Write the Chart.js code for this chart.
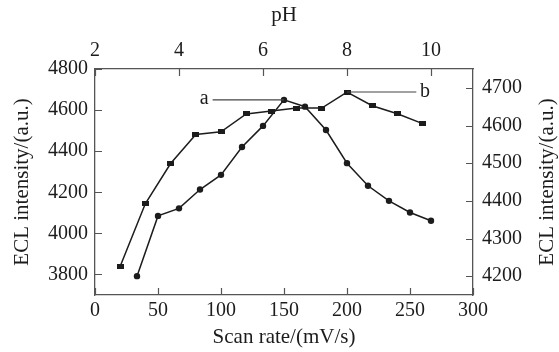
<!DOCTYPE html>
<html>
<head>
<meta charset="utf-8">
<script src="https://cdn.jsdelivr.net/npm/chart.js@4.4.1/dist/chart.umd.min.js"></script>
<style>
  html, body { margin: 0; padding: 0; background: #fff; }
</style>
</head>
<body>
<canvas id="myChart" width="559" height="352"></canvas>
<script>
// 曲線b: 走査速度 (下軸 / 左軸)
const scanRate = [20, 40, 60, 80, 100, 120, 140, 160, 180, 200, 220, 240, 260];
const scanEcl = [3840, 4145, 4340, 4481, 4494, 4581, 4595, 4610, 4610, 4688, 4621, 4582, 4534];

// 曲線a: pH (上軸 / 右軸)
const phValues = [3, 3.5, 4, 4.5, 5, 5.5, 6, 6.5, 7, 7.5, 8, 8.5, 9, 9.5, 10];
const phEcl = [4200, 4360, 4380, 4430, 4469, 4543, 4599, 4668, 4650, 4588, 4500, 4440, 4400, 4369, 4347];

// 目盛り
const scanTicks = [0, 50, 100, 150, 200, 250, 300];
const phTicks = [2, 4, 6, 8, 10];
const leftTicks = [3800, 4000, 4200, 4400, 4600, 4800];
const rightTicks = [4200, 4300, 4400, 4500, 4600, 4700];

const fontFamily = "'Liberation Serif', 'Times New Roman', serif";
const inkColor = '#1c1c1c';
const frameColor = '#555';

// 四角マーカー (横長)
const squareMarker = document.createElement('canvas');
squareMarker.width = 7;
squareMarker.height = 5;
const sctx = squareMarker.getContext('2d');
sctx.fillStyle = inkColor;
sctx.fillRect(0, 0, 7, 5);

const argmax = arr => arr.indexOf(Math.max(...arr));

const setTicks = list => scale => { scale.ticks = list.map(v => ({ value: v })); };
const plain = v => String(v);

// 軸の内側に目盛り線を引く
const innerTicks = {
  id: 'innerTicks',
  afterDatasetsDraw(chart) {
    const { ctx, chartArea: a, scales } = chart;
    const len = 7;
    ctx.save();
    ctx.strokeStyle = frameColor;
    ctx.lineWidth = 1.2;
    ctx.beginPath();
    scales.x.ticks.forEach(t => {
      const p = Math.round(scales.x.getPixelForValue(t.value)) + 0.5;
      ctx.moveTo(p, a.bottom); ctx.lineTo(p, a.bottom - len);
    });
    scales.xTop.ticks.forEach(t => {
      const p = Math.round(scales.xTop.getPixelForValue(t.value)) + 0.5;
      ctx.moveTo(p, a.top); ctx.lineTo(p, a.top + len);
    });
    scales.y.ticks.forEach(t => {
      const p = Math.round(scales.y.getPixelForValue(t.value)) + 0.5;
      ctx.moveTo(a.left, p); ctx.lineTo(a.left + len, p);
    });
    scales.y2.ticks.forEach(t => {
      const p = Math.round(scales.y2.getPixelForValue(t.value)) + 0.5;
      ctx.moveTo(a.right, p); ctx.lineTo(a.right - len, p);
    });
    ctx.stroke();
    ctx.restore();
  }
};

// ラベル a, b と右軸タイトル
const labelA = { text: 'a', at: 4.6, lineFrom: 4.8 };
const labelB = { text: 'b', at: 262, lineTo: 255 };

const annotations = {
  id: 'annotations',
  afterDatasetsDraw(chart) {
    const { ctx, chartArea: a, scales } = chart;
    ctx.save();
    ctx.strokeStyle = '#444';
    ctx.lineWidth = 1.2;
    ctx.fillStyle = inkColor;
    ctx.font = '20px ' + fontFamily;
    ctx.textAlign = 'center';
    ctx.textBaseline = 'middle';

    const pa = chart.getDatasetMeta(1).data[argmax(phEcl)];
    const xa0 = scales.xTop.getPixelForValue(labelA.lineFrom);
    ctx.beginPath();
    ctx.moveTo(xa0, pa.y); ctx.lineTo(pa.x, pa.y);
    ctx.stroke();
    ctx.fillText(labelA.text, scales.xTop.getPixelForValue(labelA.at), pa.y - 1);

    const pb = chart.getDatasetMeta(0).data[argmax(scanEcl)];
    const xb1 = scales.x.getPixelForValue(labelB.lineTo);
    ctx.beginPath();
    ctx.moveTo(pb.x, pb.y); ctx.lineTo(xb1, pb.y);
    ctx.stroke();
    ctx.fillText(labelB.text, scales.x.getPixelForValue(labelB.at), pb.y);

    // 右軸タイトル (下から上へ読む)
    ctx.font = '21px ' + fontFamily;
    ctx.translate(chart.width - 12, (a.top + a.bottom) / 2);
    ctx.rotate(-Math.PI / 2);
    ctx.fillText('ECL intensity/(a.u.)', 0, 0);
    ctx.restore();
  }
};

const tickFont = { family: fontFamily, size: 20 };
const titleFont = { family: fontFamily, size: 21 };

let config = {
  type: 'line',
  data: {
    datasets: [{
      label: 'b',
      data: scanRate.map((x, i) => ({ x: x, y: scanEcl[i] })),
      xAxisID: 'x',
      yAxisID: 'y',
      borderColor: inkColor,
      borderWidth: 1.5,
      pointStyle: squareMarker,
      pointRadius: 4,
      tension: 0
    }, {
      label: 'a',
      data: phValues.map((x, i) => ({ x: x, y: phEcl[i] })),
      xAxisID: 'xTop',
      yAxisID: 'y2',
      borderColor: inkColor,
      backgroundColor: inkColor,
      borderWidth: 1.5,
      pointStyle: 'circle',
      pointRadius: 3.2,
      pointBorderWidth: 0,
      tension: 0
    }]
  },
  options: {
    responsive: false,
    animation: false,
    devicePixelRatio: 1,
    layout: { padding: 0 },
    plugins: { legend: { display: false }, tooltip: { enabled: false } },
    scales: {
      x: {
        type: 'linear', position: 'bottom', min: 0, max: 300,
        afterBuildTicks: setTicks(scanTicks),
        afterFit: s => { s.height = 57; },
        grid: { display: false, drawTicks: false },
        border: { display: true, color: frameColor, width: 1.3 },
        ticks: { color: inkColor, font: tickFont, padding: 4, maxRotation: 0, callback: plain },
        title: { display: true, text: 'Scan rate/(mV/s)', color: inkColor, font: titleFont, padding: { top: 0, bottom: 2 } }
      },
      xTop: {
        type: 'linear', position: 'top', min: 2, max: 11,
        afterBuildTicks: setTicks(phTicks),
        afterFit: s => { s.height = 69; },
        grid: { display: false, drawTicks: false },
        border: { display: true, color: frameColor, width: 1.3 },
        ticks: { color: inkColor, font: tickFont, padding: 6, maxRotation: 0, callback: plain },
        title: { display: true, text: 'pH', color: inkColor, font: titleFont, padding: { top: 3, bottom: 0 } }
      },
      y: {
        type: 'linear', position: 'left', min: 3700, max: 4800,
        afterBuildTicks: setTicks(leftTicks),
        afterFit: s => { s.width = 95; },
        grid: { display: false, drawTicks: false },
        border: { display: true, color: frameColor, width: 1.3 },
        ticks: { color: inkColor, font: tickFont, padding: 7, callback: plain },
        title: { display: true, text: 'ECL intensity/(a.u.)', color: inkColor, font: titleFont, padding: { top: 10, bottom: 0 } }
      },
      y2: {
        type: 'linear', position: 'right', min: 4150, max: 4750,
        afterBuildTicks: setTicks(rightTicks),
        afterFit: s => { s.width = 86; },
        grid: { display: false, drawTicks: false },
        border: { display: true, color: frameColor, width: 1.3 },
        ticks: { color: inkColor, font: tickFont, padding: 9, callback: plain }
      }
    }
  },
  plugins: [innerTicks, annotations]
};

window.addEventListener('load', function() {
  let ctx = document.getElementById('myChart').getContext('2d');
  myChart = new Chart(ctx, config);
}, false);
</script>
</body>
</html>
